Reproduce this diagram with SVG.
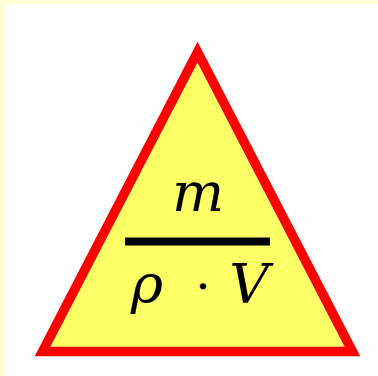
<svg xmlns="http://www.w3.org/2000/svg" width="378" height="376" viewBox="0 0 378 376">
  <style>
    .math { font-family: "DejaVu Serif", "Liberation Serif", serif; font-style: italic; font-size: 55px; fill: #000; text-anchor: middle; }
    .op { font-family: "DejaVu Serif", "Liberation Serif", serif; font-size: 48px; fill: #000; text-anchor: middle; }
  </style>
  <rect x="0" y="0" width="378" height="376" fill="#ffffd6"/>
  <rect x="5" y="4" width="373" height="372" fill="#ffffff"/>
  <g id="triangle">
    <polygon points="197.5,52 352.5,351.5 42.5,351.5" fill="#ffff66" stroke="#ff0000" stroke-width="9.5" stroke-linejoin="miter"/>
  </g>
  <g id="formula">
    <text class="math" x="198" y="211">m</text>
    <rect x="125" y="237.5" width="145" height="8" fill="#000"/>
    <text class="math" x="147" y="303">ρ</text>
    <text class="op" x="203" y="303">⋅</text>
    <text class="math" x="249" y="303">V</text>
  </g>
</svg>
